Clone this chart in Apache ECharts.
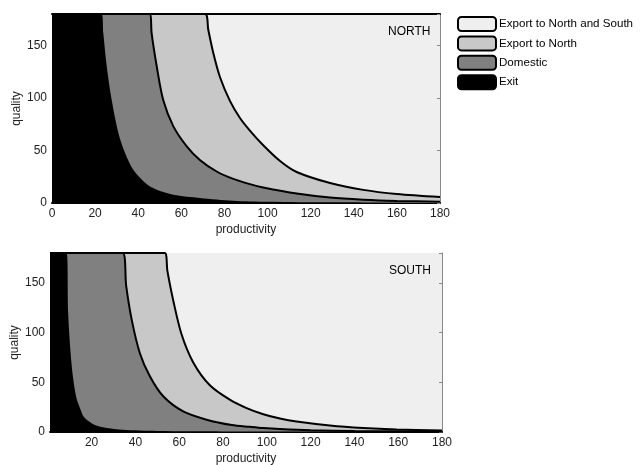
<!DOCTYPE html>
<html><head><meta charset="utf-8">
<script src="https://cdn.jsdelivr.net/npm/echarts@6/dist/echarts.min.js"></script>
<style>html,body{margin:0;padding:0;background:#fff}#c{width:642px;height:465px}</style>
</head><body><div id="c"></div>
<script>
// ---- data ----
const xTicksNorth = [0,20,40,60,80,100,120,140,160,180];
const xTicksSouth = [20,40,60,80,100,120,140,160,180];
const yTicks = [0,50,100,150];
const regionNames = ['Export to North and South','Export to North','Domestic','Exit'];

// NORTH boundaries (productivity, quality)
const nExitX = [0,23,23.8,25.4,27.7,30.8,33.9,37.7,43.9,48.6,56.3,68.6,84,100,130,180];
const nExitQ = [180,180,162,130,98,66.7,47.6,31.7,18,12.7,7.9,4.8,2.2,1.2,0.6,0.3];
const nDomX = [0,45.5,46.2,48.6,51.6,56.3,62.5,68.6,76.4,84.1,91.8,98,113.5,129,144.4,160,180];
const nDomQ = [180,180,162,130,98,73,54,41,30,23,18,14.8,9,5.2,3.2,2,1.2];
const nExpX = [0,71,72.5,74.8,77.9,82.6,87.2,91.8,98,105.8,113.5,129,144.4,160,180];
const nExpQ = [180,180,165,143,120,97,81,69,55,40,29.5,19,12.5,8.6,5.7];

// SOUTH boundaries
const sExitX = [1,8.6,9.3,10.4,11.5,13,14.7,16.5,19.2,22,27,34,50,80,120,180];
const sExitQ = [180,180,120,80,55,35,24,15,10,6.5,4,2.2,1,0.6,0.4,0.3];
const sDomX = [1,34.2,35.8,38.3,42,46.6,52.7,61.8,72.5,84,92.3,98.4,106,120,140,180];
const sDomQ = [180,180,146.6,113,79.5,56,35.9,20.7,12.4,7,5.2,4,3,1.8,1,0.5];
const sExpX = [1,53.4,54.6,57.3,61.1,66.4,74,83.1,90.8,98.4,106,113.6,128.8,144,159.3,180];
const sExpQ = [180,180,162,132,98,70,47,32.5,24,17.8,13.5,10.5,6.5,4,2.5,1.5];

const colors = {'Export to North and South':'#efefef','Export to North':'#c8c8c8','Domestic':'#808080','Exit':'#000000'};
const FONT = "'Liberation Sans', Arial, sans-serif";

function pairs(xs, qs){ return xs.map((x,i)=>[x, qs[i]]); }

function areaSeries(name, xs, qs, xi, yi, z){
  return {type:'line', name:name, xAxisIndex:xi, yAxisIndex:yi, data:pairs(xs,qs),
    showSymbol:false, symbol:'none', smooth:0.3, z:z, silent:true,
    lineStyle:{width:0, color:colors[name]}, itemStyle:{color:colors[name]},
    areaStyle:{color:colors[name], opacity:1, origin:'start'}};
}
function boundary(xs, qs, xi, yi){
  return {type:'line', name:'', xAxisIndex:xi, yAxisIndex:yi, data:pairs(xs,qs),
    showSymbol:false, symbol:'none', smooth:0.3, z:10, silent:true,
    lineStyle:{width:2, color:'#000'}};
}

const labelStyle = {color:'#222', fontSize:12, fontFamily:FONT};
function bottomAxis(grid, min, ticks){
  return {type:'value', gridIndex:grid, min:min, max:180, position:'bottom',
    name:'productivity', nameLocation:'middle', nameGap:21, nameMoveOverlap:false,
    nameTextStyle:{color:'#222', fontSize:12, fontFamily:FONT},
    axisLine:{show:true, onZero:false, lineStyle:{color:'#000', width:2}},
    axisTick:{show:false}, splitLine:{show:false},
    axisLabel:Object.assign({margin:5, customValues:ticks}, labelStyle)};
}
function topAxis(grid, min, show){
  return {type:'value', gridIndex:grid, min:min, max:180, position:'top',
    axisLine:{show:show, onZero:false, lineStyle:{color:'#000', width:2}},
    axisTick:{show:false}, axisLabel:{show:false}, splitLine:{show:false}};
}
function leftAxis(grid){
  return {type:'value', gridIndex:grid, min:0, max:180, interval:50, position:'left',
    name:'quality', nameLocation:'middle', nameGap:29, nameMoveOverlap:false,
    nameTextStyle:{color:'#222', fontSize:12, fontFamily:FONT},
    axisLine:{show:false}, axisTick:{show:false}, splitLine:{show:false},
    axisLabel:Object.assign({margin:5, customValues:yTicks}, labelStyle)};
}
function rightAxis(grid){
  return {type:'value', gridIndex:grid, min:0, max:180, interval:50, position:'right',
    axisLine:{show:true, onZero:false, lineStyle:{color:'#888', width:1}},
    axisTick:{show:true, inside:true, length:3, lineStyle:{color:'#888'}},
    axisLabel:{show:false}, splitLine:{show:false}};
}

const chart = echarts.init(document.getElementById('c'), null, {renderer:'canvas'});
chart.setOption({
  animation:false,
  backgroundColor:'#fff',
  textStyle:{fontFamily:FONT},
  grid:[
    {left:52, top:14, width:388, height:189, show:true, backgroundColor:colors['Export to North and South'], borderWidth:0, containLabel:false, outerBoundsMode:'none'},
    {left:50, top:253, width:392, height:179, show:true, backgroundColor:colors['Export to North and South'], borderWidth:0, containLabel:false, outerBoundsMode:'none'}
  ],
  xAxis:[bottomAxis(0,0,xTicksNorth), topAxis(0,0,true), bottomAxis(1,1,xTicksSouth), topAxis(1,1,false)],
  yAxis:[leftAxis(0), rightAxis(0), leftAxis(1), rightAxis(1)],
  legend:{orient:'vertical', left:452, top:11, padding:5, itemWidth:38, itemHeight:14, itemGap:3.4,
    icon:'roundRect', selectedMode:false,
    textStyle:{color:'#000', fontSize:11.6, fontFamily:FONT, padding:[0,0,0,-2]},
    data:regionNames.map(n=>({name:n, icon:'roundRect', itemStyle:{color:colors[n], borderColor:'#000', borderWidth:2}}))},
  graphic:[
    {type:'text', left:388, top:26, style:{text:'NORTH', fill:'#000', font:'12px '+FONT}},
    {type:'text', left:389, top:265, style:{text:'SOUTH', fill:'#000', font:'12px '+FONT}}
  ],
  series:[
    {type:'line', name:'Export to North and South', data:[], xAxisIndex:0, yAxisIndex:0, itemStyle:{color:colors['Export to North and South']}},
    areaSeries('Export to North', nExpX, nExpQ, 0, 0, 2),
    areaSeries('Domestic', nDomX, nDomQ, 0, 0, 3),
    areaSeries('Exit', nExitX, nExitQ, 0, 0, 4),
    boundary(nExpX, nExpQ, 0, 0),
    boundary(nDomX, nDomQ, 0, 0),
    areaSeries('Export to North', sExpX, sExpQ, 2, 2, 2),
    areaSeries('Domestic', sDomX, sDomQ, 2, 2, 3),
    areaSeries('Exit', sExitX, sExitQ, 2, 2, 4),
    boundary(sExpX, sExpQ, 2, 2),
    boundary(sDomX, sDomQ, 2, 2)
  ]
});
</script></body></html>
